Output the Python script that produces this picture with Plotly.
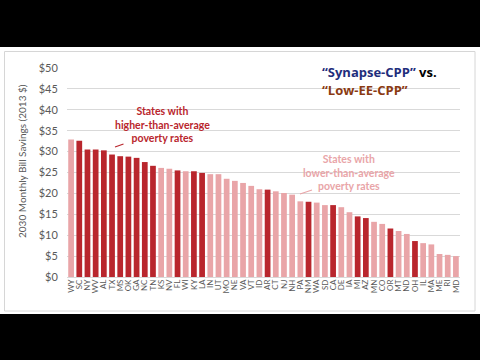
import plotly.graph_objects as go

states = ["WY","SC","NY","WV","AL","TX","MS","OK","GA","NC","TN","KS","NV","FL","WI","KY","LA","IN",
          "UT","MO","NE","VA","VT","ID","AR","CT","NJ","NH","PA","NM","WA","SD","CA","DE","IA","MI",
          "AZ","MN","CO","OR","MT","ND","OH","IL","MA","ME","RI","MD"]
savings = [32.9,32.6,30.5,30.5,30.3,29.3,28.9,28.8,28.5,27.5,26.6,26.1,25.9,25.5,25.3,25.3,24.9,24.6,
           24.6,23.5,23.0,22.5,21.8,21.0,20.9,20.5,20.1,19.7,18.1,18.0,17.8,17.2,17.2,16.7,15.5,14.5,
           14.1,13.2,12.7,11.6,11.0,10.3,8.6,8.1,7.8,5.5,5.3,5.0]
high_poverty = ["SC","NY","WV","AL","TX","MS","OK","GA","NC","TN","FL","KY","LA","AR","NM","CA",
                "MI","AZ","OR","OH"]

DARK = "#b9262d"
LIGHT = "#e9a5a8"
colors = [DARK if s in high_poverty else LIGHT for s in states]

W, H = 480, 360
L, R, T, B = 67, 460, 68, 277

def px(x):
    return (x - L) / (R - L)

def py(y):
    return (B - y) / (B - T)

fig = go.Figure(go.Bar(x=states, y=savings, marker=dict(color=colors, line=dict(width=0))))

gray = "#595959"
fig.update_layout(
    width=W, height=H,
    margin=dict(l=L, r=W - R, t=T, b=H - B),
    paper_bgcolor="white", plot_bgcolor="white",
    bargap=0.3, showlegend=False,
    font=dict(family="Lato, sans-serif", color=gray),
)
fig.update_yaxes(range=[0, 50], dtick=5, tickprefix="$", showgrid=True, gridcolor="#d9d9d9",
                 gridwidth=1, zeroline=True, zerolinecolor="#d9d9d9", zerolinewidth=1,
                 ticks="outside", ticklen=6, tickcolor="rgba(0,0,0,0)",
                 tickfont=dict(size=11, color=gray), showline=False)
fig.update_xaxes(range=[-0.5, len(states) - 0.5], tickangle=-90, tickfont=dict(size=8, color=gray),
                 tickmode="array", tickvals=states, ticktext=states,
                 showgrid=False, showline=False, ticks="", ticklen=0)

shapes = [
    dict(type="rect", xref="paper", yref="paper", x0=px(-10), x1=px(W + 10), y0=py(-10), y1=py(47),
         fillcolor="black", line=dict(width=0), layer="above"),
    dict(type="rect", xref="paper", yref="paper", x0=px(-10), x1=px(W + 10), y0=py(314), y1=py(H + 10),
         fillcolor="black", line=dict(width=0), layer="above"),
    dict(type="rect", xref="paper", yref="paper", x0=px(4.5), x1=px(475), y0=py(51.5), y1=py(311),
         line=dict(color="#d6d6d6", width=1), layer="below"),
    dict(type="line", xref="paper", yref="paper", x0=px(115), y0=py(147), x1=px(123.5), y1=py(144),
         line=dict(color=DARK, width=1.2)),
    dict(type="line", xref="paper", yref="paper", x0=px(300), y0=py(194), x1=px(312), y1=py(190),
         line=dict(color=LIGHT, width=1.2)),
]
fig.update_layout(shapes=shapes)

annotations = [
    dict(text="2030 Monthly Bill Savings (2013 $)", textangle=-90, x=px(22), y=py(161),
         font=dict(size=10, color=gray)),
    dict(text="<b>States with<br>higher-than-average<br>poverty rates</b>", x=px(162), y=py(124),
         font=dict(size=10.5, color=DARK)),
    dict(text="<b>States with<br>lower-than-average<br>poverty rates</b>", x=px(349), y=py(172.5),
         font=dict(size=10.5, color=LIGHT)),
    dict(text="<b><span style='color:#1f2e7c'>\u201cSynapse-CPP\u201d</span> vs.</b>", x=px(320), y=py(72),
         xanchor="left", font=dict(size=13, color="black", family="Open Sans, sans-serif")),
    dict(text="<b>\u201cLow-EE-CPP\u201d</b>", x=px(320), y=py(90), xanchor="left",
         font=dict(size=13, color="#8a3a12", family="Open Sans, sans-serif")),
]
for a in annotations:
    a.setdefault("xanchor", "center")
    a.update(xref="paper", yref="paper", showarrow=False, yanchor="middle")
fig.update_layout(annotations=annotations)

fig.write_html("out.html", config={"displayModeBar": False},
               post_script="document.body.style.margin='0';document.body.style.background='black';")
